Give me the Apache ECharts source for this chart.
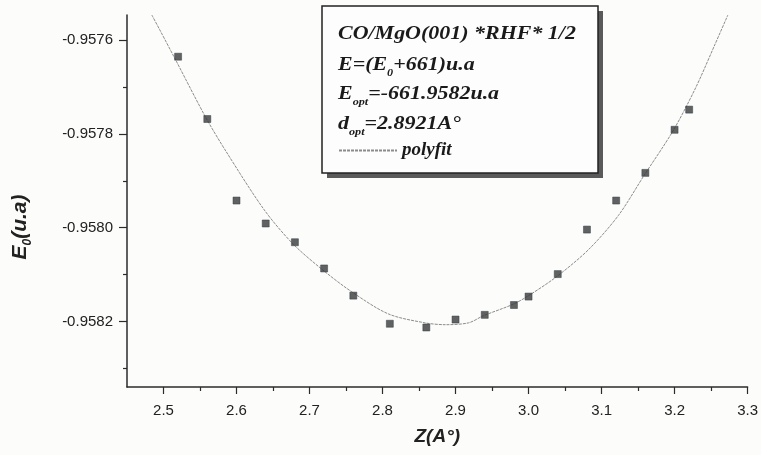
<!DOCTYPE html>
<html>
<head>
<meta charset="utf-8">
<script src="https://cdn.jsdelivr.net/npm/echarts@6/dist/echarts.min.js"></script>
<style>
  html, body { margin: 0; padding: 0; background: #fcfcfb; }
  #chart { width: 761px; height: 455px; }
</style>
</head>
<body>
<div id="chart"></div>
<script>
// Measured points: distance Z (Å) and shifted energy E0 (u.a)
const zValues = [2.52, 2.56, 2.60, 2.64, 2.68, 2.72, 2.76, 2.81, 2.86, 2.90,
                 2.94, 2.98, 3.00, 3.04, 3.08, 3.12, 3.16, 3.20, 3.22];
const eValues = [-0.957635, -0.957768, -0.957942, -0.957991, -0.958031, -0.958087,
                 -0.958145, -0.958205, -0.958213, -0.958196, -0.958186, -0.958165,
                 -0.958147, -0.958099, -0.958004, -0.957942, -0.957883, -0.957791,
                 -0.957748];

// Polynomial fit curve samples
const fitZ = [2.484, 2.495, 2.518, 2.558, 2.586, 2.638, 2.677, 2.718, 2.758, 2.808,
              2.858, 2.886, 2.918, 2.938, 2.978, 2.998, 3.038, 3.082, 3.123, 3.158,
              3.198, 3.229, 3.255, 3.273];
const fitE = [-0.957546, -0.957578, -0.957646, -0.957765, -0.957838, -0.957962,
              -0.958034, -0.958090, -0.958137, -0.958184, -0.958203, -0.958207,
              -0.958203, -0.958188, -0.958164, -0.958147, -0.958105, -0.958047,
              -0.957974, -0.957889, -0.957793, -0.957701, -0.957610, -0.957546];

// Axis ticks
const xMajorTicks = [2.5, 2.6, 2.7, 2.8, 2.9, 3.0, 3.1, 3.2, 3.3];
const xMinorTicks = [2.55, 2.65, 2.75, 2.85, 2.95, 3.05, 3.15, 3.25];
const yMajorTicks = [-0.9576, -0.9578, -0.9580, -0.9582];
const yMinorTicks = [-0.9577, -0.9579, -0.9581, -0.9583];

const xRange = [2.45, 3.3];
const yRange = [-0.95834, -0.957546];

const axisColor = '#2b2b2b';
const serif = '"Liberation Serif", "DejaVu Serif", serif';
const sans = '"Liberation Sans", Arial, sans-serif';

const chart = echarts.init(document.getElementById('chart'), null, { renderer: 'canvas' });

const majorX = {
  type: 'value', min: xRange[0], max: xRange[1], position: 'bottom',
  axisLine: { show: true, lineStyle: { color: axisColor, width: 1.5 } },
  axisTick: { show: true, inside: false, length: 7, customValues: xMajorTicks,
              lineStyle: { color: axisColor, width: 1.2 } },
  axisLabel: { show: true, customValues: xMajorTicks, margin: 16,
               color: '#222', fontFamily: sans, fontSize: 15,
               formatter: v => v.toFixed(1) },
  splitLine: { show: false },
  name: 'Z(A°)', nameLocation: 'middle', nameGap: 40,
  nameTextStyle: { fontFamily: sans, fontSize: 19, fontWeight: 'bold',
                   fontStyle: 'italic', color: '#222' }
};
const minorX = {
  type: 'value', min: xRange[0], max: xRange[1], position: 'bottom',
  axisLine: { show: false },
  axisTick: { show: true, inside: false, length: 4, customValues: xMinorTicks,
              lineStyle: { color: axisColor, width: 1.2 } },
  axisLabel: { show: false },
  splitLine: { show: false }
};
const majorY = {
  type: 'value', min: yRange[0], max: yRange[1], position: 'left',
  axisLine: { show: true, lineStyle: { color: axisColor, width: 1.5 } },
  axisTick: { show: true, inside: false, length: 8, customValues: yMajorTicks,
              lineStyle: { color: axisColor, width: 1.2 } },
  axisLabel: { show: true, customValues: yMajorTicks, margin: 14,
               color: '#222', fontFamily: sans, fontSize: 15,
               formatter: v => v.toFixed(4) },
  splitLine: { show: false },
  name: '{a|E}{s|0}{a|(u.a)}', nameLocation: 'middle', nameGap: 93, nameRotate: 90,
  nameTextStyle: {
    padding: [0, 52, 0, 0],
    rich: {
      a: { fontFamily: sans, fontSize: 21, fontWeight: 'bold', fontStyle: 'italic',
           color: '#222', lineHeight: 28 },
      s: { fontFamily: sans, fontSize: 12, fontWeight: 'bold', fontStyle: 'italic',
           color: '#222', lineHeight: 12, verticalAlign: 'bottom' }
    }
  }
};
const minorY = {
  type: 'value', min: yRange[0], max: yRange[1], position: 'left', offset: 0,
  axisLine: { show: false },
  axisTick: { show: true, inside: false, length: 4, customValues: yMinorTicks,
              lineStyle: { color: axisColor, width: 1.2 } },
  axisLabel: { show: false },
  splitLine: { show: false }
};

const richBox = {
  t: { fontFamily: serif, fontSize: 18, fontWeight: 'bold', fontStyle: 'italic',
       fill: '#1a1a1a', lineHeight: 26 },
  s: { fontFamily: serif, fontSize: 10, fontWeight: 'bold', fontStyle: 'italic',
       fill: '#1a1a1a', lineHeight: 10, verticalAlign: 'bottom' }
};
function boxText(text, x, y) {
  return { type: 'text', left: x, top: y, z: 6, scaleX: 1.22,
           style: { text: text, rich: richBox, fill: '#1a1a1a' } };
}

chart.setOption({
  backgroundColor: '#fcfcfb',
  animation: false,
  grid: { left: 127, right: 11, top: 15, bottom: 68, containLabel: false },
  xAxis: [majorX, minorX],
  yAxis: [majorY, minorY],
  legend: {
    data: ['polyfit'], left: 333, top: 136, z: 10,
    itemWidth: 58, itemHeight: 10, itemGap: 6,
    itemStyle: { opacity: 0 },
    textStyle: { fontFamily: serif, fontSize: 19, fontWeight: 'bold',
                 fontStyle: 'italic', color: '#1a1a1a' }
  },
  graphic: [
    { type: 'rect', z: 4, shape: { x: 327, y: 11, width: 276, height: 167 },
      style: { fill: '#5a5a5a' } },
    { type: 'rect', z: 5, shape: { x: 322, y: 6, width: 276, height: 167 },
      style: { fill: '#fdfdfd', stroke: '#222', lineWidth: 1.5 } },
    boxText('{t|CO/MgO(001) *RHF* 1/2}', 338, 25),
    boxText('{t|E=(E}{s|0}{t|+661)u.a}', 338, 56),
    boxText('{t|E}{s|opt}{t|=-661.9582u.a}', 338, 85),
    boxText('{t|d}{s|opt}{t|=2.8921A°}', 338, 115)
  ],
  series: [
    {
      name: 'polyfit', type: 'line', xAxisIndex: 0, yAxisIndex: 0,
      data: fitZ.map((z, i) => [z, fitE[i]]),
      smooth: 0.3, symbol: 'none', clip: true,
      lineStyle: { color: '#8c8c8c', width: 1, type: [3, 1] },
      itemStyle: { color: '#8c8c8c' }, z: 2
    },
    {
      name: 'E0', type: 'scatter', xAxisIndex: 0, yAxisIndex: 0,
      data: zValues.map((z, i) => [z, eValues[i]]),
      symbol: 'rect', symbolSize: 7,
      itemStyle: { color: '#3a3a3a', borderColor: '#2a3a4a', borderWidth: 0.6 }, z: 3
    }
  ]
});
</script>
</body>
</html>
